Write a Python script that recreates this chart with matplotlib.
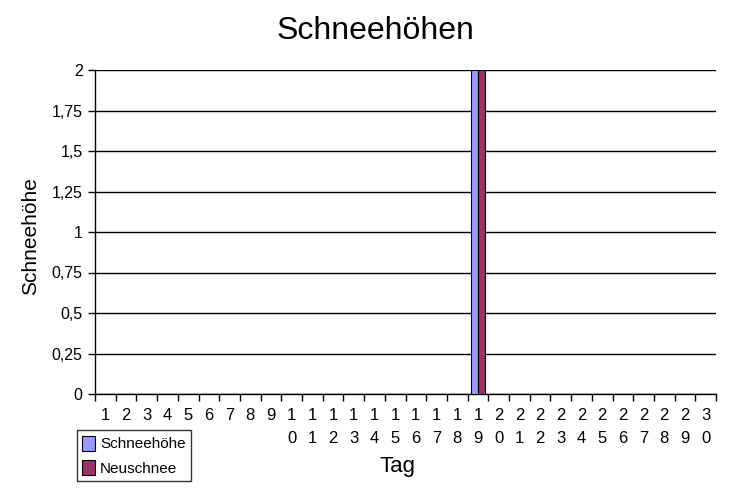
import matplotlib
matplotlib.use("Agg")
import matplotlib.pyplot as plt
import numpy as np

plt.rcParams['font.family'] = ['Liberation Sans', 'DejaVu Sans']

tage = list(range(1, 31))
schneehoehe = [0] * 18 + [2] + [0] * 11
neuschnee = [0] * 18 + [2] + [0] * 11
y_ticks = [0, 0.25, 0.5, 0.75, 1, 1.25, 1.5, 1.75, 2]
y_labels = ['0', '0,25', '0,5', '0,75', '1', '1,25', '1,5', '1,75', '2']

fig = plt.figure(figsize=(7.5, 4.94), dpi=100)
ax = fig.add_axes([95 / 750, 1 - 394 / 494, (716 - 95) / 750, (394 - 70) / 494])

x = np.arange(len(tage))
w = 0.34
ax.bar(x - w / 2, schneehoehe, w, color='#9999ff', edgecolor='black', linewidth=0.8,
       label='Schneehöhe', zorder=3)
ax.bar(x + w / 2, neuschnee, w, color='#993366', edgecolor='black', linewidth=0.8,
       label='Neuschnee', zorder=3)

ax.set_xlim(-0.5, len(tage) - 0.5)
ax.set_ylim(0, 2)
ax.set_yticks(y_ticks)
ax.set_yticklabels(y_labels, fontsize=11.5)
ax.yaxis.grid(True, color='black', linewidth=1)
ax.set_axisbelow(True)

ax.set_xticks(np.arange(len(tage) + 1) - 0.5)
ax.set_xticklabels([])
ax.set_xticks(x, minor=True)
ax.set_xticklabels(['\n'.join(str(t)) for t in tage], minor=True, fontsize=12,
                   va='top', linespacing=1.65)
ax.tick_params(axis='x', which='minor', length=0, pad=10)
ax.tick_params(axis='x', which='major', length=5, direction='out', width=1)
ax.tick_params(axis='y', length=5, direction='out', width=1, pad=4)

for s in ['top', 'right']:
    ax.spines[s].set_visible(False)
for s in ['left', 'bottom']:
    ax.spines[s].set_linewidth(1)

fig.text(0.5, 1 - 31 / 494, 'Schneehöhen', ha='center', va='center', fontsize=23)
fig.text(397 / 750, 1 - 466 / 494, 'Tag', ha='center', va='center', fontsize=16)
fig.text(31 / 750, 1 - 236 / 494, 'Schneehöhe', ha='center', va='center',
         rotation=90, fontsize=15)

leg = fig.legend(loc='lower left', bbox_to_anchor=(77 / 750, 1 - 481 / 494),
                 fontsize=11, frameon=True, fancybox=False, edgecolor='black',
                 handlelength=0.85, handleheight=1.15, handletextpad=0.3,
                 borderpad=0.35, labelspacing=0.55, borderaxespad=0)
leg.get_frame().set_linewidth(1)

fig.savefig('out.png', dpi=100)
